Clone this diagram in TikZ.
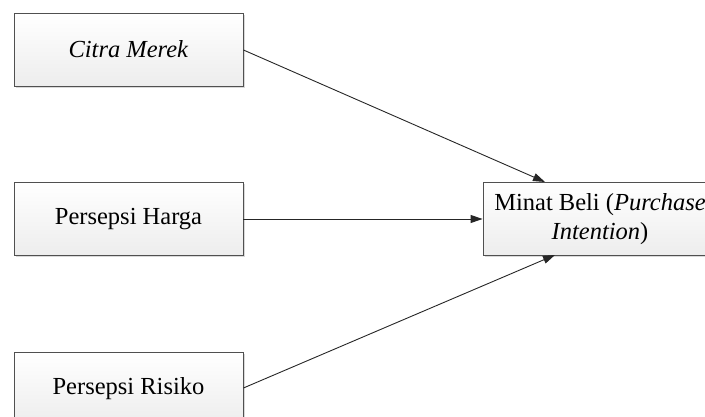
\documentclass[tikz,border=0pt]{standalone}
\usepackage{fontspec}
\setmainfont{Liberation Serif}
\usetikzlibrary{arrows.meta,shadows}
\definecolor{boxline}{HTML}{505050}
\definecolor{boxbot}{HTML}{EDEDED}
\begin{document}
\begin{tikzpicture}[x=1pt,y=1pt,
  varbox/.style={draw=boxline, line width=0.9pt, top color=white, bottom color=boxbot,
    minimum width=229pt, minimum height=73pt, inner sep=0pt, align=center,
    font=\fontsize{24.5}{29}\selectfont,
    drop shadow={shadow xshift=2pt, shadow yshift=-2pt, fill=black!25, opacity=0.6}},
  link/.style={draw=black!85, line width=0.9pt, -{Triangle[length=12pt,width=8pt]}}]
\useasboundingbox (0,0) rectangle (705,417);
\node[varbox] (citra) at (128.5,367.5) {\textit{Citra Merek}};
\node[varbox] (harga) at (128.5,198) {Persepsi Harga};
\node[varbox] (risiko) at (128.5,28.5) {Persepsi Risiko};
\node[varbox, minimum width=234pt] (minat) at (600,198) {Minat Beli (\textit{Purchase}\\\textit{Intention})};
\coordinate (t1) at (545,235);
\coordinate (t2) at (555,162);
\draw[link] (citra.east |- 0,367) -- (t1);
\draw[link] (harga.east) -- (minat.west);
\draw[link] (risiko.east |- 0,29) -- (t2);
\end{tikzpicture}
\end{document}
